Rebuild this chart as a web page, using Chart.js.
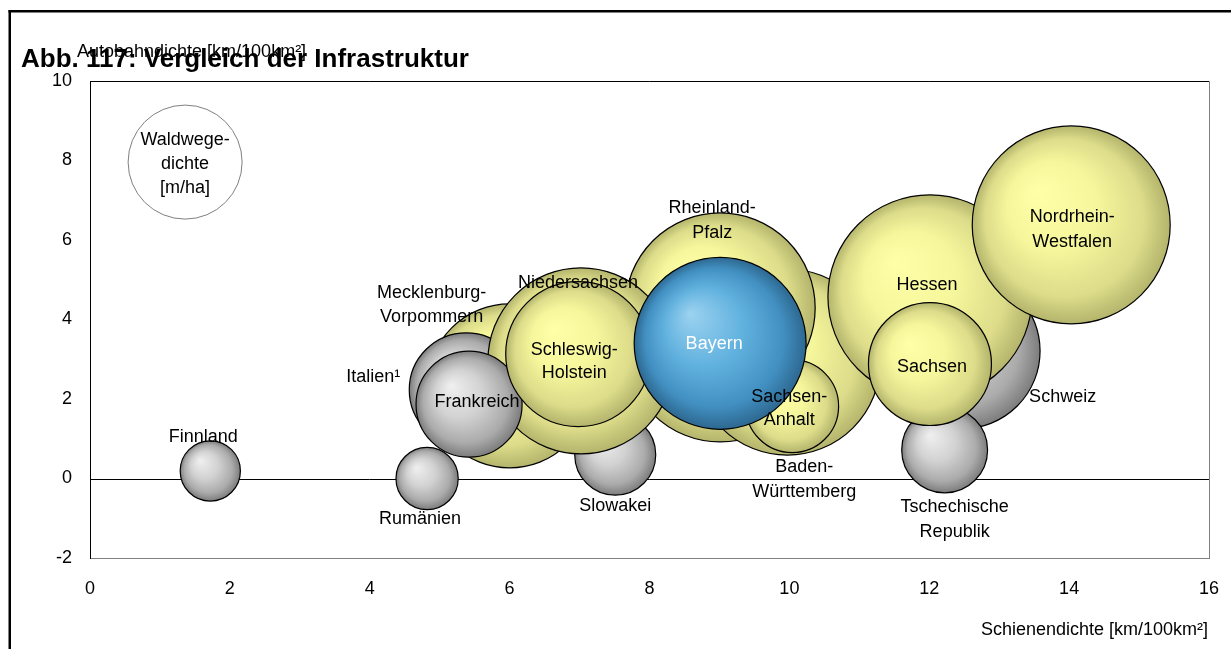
<!DOCTYPE html>
<html>
<head>
<meta charset="utf-8">
<script src="https://cdn.jsdelivr.net/npm/chart.js@4/dist/chart.umd.min.js"></script>
<style>
  html, body { margin: 0; padding: 0; background: #fff; }
  #c { display: block; }
</style>
</head>
<body>
<canvas id="c" width="1231" height="649"></canvas>
<script>
// ---------- DATA (drawing order: back to front) ----------
const laender = [
  '(ohne Beschriftung)', 'Baden-Württemberg', 'Rheinland-Pfalz', 'Slowakei',
  'Mecklenburg-Vorpommern', 'Italien', 'Niedersachsen', 'Frankreich',
  'Schleswig-Holstein', 'Sachsen-Anhalt', 'Bayern', 'Schweiz',
  'Tschechische Republik', 'Hessen', 'Nordrhein-Westfalen', 'Sachsen',
  'Finnland', 'Rumänien'
];
// Schienendichte [km/100km²] (x)
const schienendichte = [9.01, 9.97, 9.01, 7.51, 6.00, 5.38, 7.02, 5.42, 6.98, 10.04, 9.01, 12.47, 12.22, 12.01, 14.03, 12.01, 1.72, 4.82];
// Autobahndichte [km/100km²] (y)
const autobahndichte = [3.31, 2.93, 4.29, 0.60, 2.33, 2.23, 2.96, 1.87, 3.13, 1.82, 3.40, 3.21, 0.72, 4.57, 6.38, 2.88, 0.19, 0.00];
// Waldwegedichte [m/ha] (bubble size)
const waldwegedichte = [57.8, 55.4, 57.8, 10.5, 43.0, 20.8, 55.4, 18.0, 33.6, 13.8, 47.3, 38.9, 11.8, 66.6, 62.7, 24.2, 5.8, 6.2];
// group: DE = Bundesland, EU = Staat, BY = Bayern
const gruppe = ['DE', 'DE', 'DE', 'EU', 'DE', 'EU', 'DE', 'EU', 'DE', 'DE', 'BY', 'EU', 'EU', 'DE', 'DE', 'DE', 'EU', 'EU'];
// label text
const beschriftung = [
  '', 'Baden-\nWürttemberg', 'Rheinland-\nPfalz', 'Slowakei',
  'Mecklenburg-\nVorpommern', 'Italien¹', 'Niedersachsen', 'Frankreich',
  'Schleswig-\nHolstein', 'Sachsen-\nAnhalt', 'Bayern', 'Schweiz',
  'Tschechische\nRepublik', 'Hessen', 'Nordrhein-\nWestfalen', 'Sachsen',
  'Finnland', 'Rumänien'
];
// size legend bubble
const legendeText = 'Waldwege-\ndichte\n[m/ha]';
const legendeX = [1.36];
const legendeY = [7.96];
const legendeWert = [20.8];

const xTicks = [0, 2, 4, 6, 8, 10, 12, 14, 16];
const yTicks = [-2, 0, 2, 4, 6, 8, 10];

const titel = 'Abb. 117: Vergleich der Infrastruktur';
const yTitel = 'Autobahndichte [km/100km²]';
const xTitel = 'Schienendichte [km/100km²]';

// ---------- STYLE ----------
const FONT = "'Liberation Sans', Arial, sans-serif";
const PX_PER_SQRT = 12.5; // bubble radius = k * sqrt(value)
// label placement relative to bubble centre (px); align / line height
const labelPlacement = {
  'Baden-Württemberg': { dx: 17, dy: 105, lh: 25 },
  'Rheinland-Pfalz': { dx: -8, dy: -100, lh: 25 },
  'Slowakei': { dx: 0, dy: 51 },
  'Mecklenburg-Vorpommern': { dx: -78, dy: -93, lh: 24 },
  'Italien': { dx: -66, dy: -13, align: 'right' },
  'Niedersachsen': { dx: -3, dy: -78 },
  'Frankreich': { dx: 8, dy: -2 },
  'Schleswig-Holstein': { dx: -4, dy: -4, lh: 23 },
  'Sachsen-Anhalt': { dx: -3, dy: -9, lh: 23 },
  'Bayern': { dx: -6, dy: 1, color: '#ffffff' },
  'Schweiz': { dx: 67, dy: 46, align: 'left' },
  'Tschechische Republik': { dx: 10, dy: 57, lh: 25 },
  'Hessen': { dx: -3, dy: -12 },
  'Nordrhein-Westfalen': { dx: 1, dy: -8, lh: 25 },
  'Sachsen': { dx: 2, dy: 3 },
  'Finnland': { dx: -7, dy: -34 },
  'Rumänien': { dx: -7, dy: 41 }
};
const gradientStops = {
  DE: [[0, '#FFFFA8'], [0.45, '#F6F69C'], [0.8, '#DCDC8A'], [1, '#B4B46C']],
  EU: [[0, '#F0F0F0'], [0.45, '#D2D2D2'], [0.8, '#ABABAB'], [1, '#7C7C7C']],
  BY: [[0, '#9CD2F0'], [0.45, '#62B2DF'], [0.8, '#4290C2'], [1, '#2D6890']]
};

// ---------- BUILD ----------
const bubbleData = laender.map((n, i) => ({
  x: schienendichte[i], y: autobahndichte[i], r: PX_PER_SQRT * Math.sqrt(waldwegedichte[i]),
  name: n, grp: gruppe[i], text: beschriftung[i]
}));
const legendData = legendeX.map((x, i) => ({
  x: x, y: legendeY[i], r: PX_PER_SQRT * Math.sqrt(legendeWert[i]), text: legendeText
}));

function bubbleFill(ctx) {
  if (ctx.type !== 'data') return '#fff';
  const chart = ctx.chart;
  const xs = chart.scales.x, ys = chart.scales.y;
  const d = ctx.raw;
  if (!xs || !ys) return '#ddd';
  const cx = xs.getPixelForValue(d.x), cy = ys.getPixelForValue(d.y), r = d.r;
  if (!isFinite(cx) || !isFinite(cy)) return '#ddd';
  const g = chart.ctx.createRadialGradient(cx - 0.35 * r, cy - 0.35 * r, 0, cx, cy, r);
  gradientStops[d.grp].forEach(s => g.addColorStop(s[0], s[1]));
  return g;
}

const decorPlugin = {
  id: 'decor',
  beforeDraw(chart) {
    const c = chart.ctx;
    c.save();
    c.fillStyle = '#fff';
    c.fillRect(0, 0, chart.width, chart.height);
    // outer frame
    c.fillStyle = '#000';
    c.fillRect(8.5, 10, 2.5, chart.height);
    c.fillRect(8.5, 10, chart.width, 2.5);
    c.restore();
  },
  beforeDatasetsDraw(chart) {
    const c = chart.ctx, a = chart.chartArea;
    const ys = chart.scales.y;
    c.save();
    c.strokeStyle = '#808080';
    c.lineWidth = 1;
    c.beginPath();
    c.moveTo(a.left, a.top + 0.5);
    c.lineTo(a.right + 0.5, a.top + 0.5);
    c.lineTo(a.right + 0.5, a.bottom);
    c.stroke();
    c.strokeStyle = '#000';
    c.beginPath();
    c.moveTo(a.left, a.top + 0.5);
    c.lineTo(a.right, a.top + 0.5);
    c.stroke();
    const y0 = Math.round(ys.getPixelForValue(0)) + 0.5;
    c.beginPath();
    c.moveTo(a.left, y0);
    c.lineTo(a.right, y0);
    c.stroke();
    c.restore();
  },
  afterDatasetsDraw(chart) {
    const c = chart.ctx;
    const xs = chart.scales.x, ys = chart.scales.y;
    c.save();
    c.font = '18px ' + FONT;
    c.textBaseline = 'middle';
    // bubble labels
    bubbleData.forEach(d => {
      if (!d.text) return;
      const key = d.name;
      const p = labelPlacement[key] || { dx: 0, dy: 0 };
      const cx = xs.getPixelForValue(d.x), cy = ys.getPixelForValue(d.y);
      const lines = d.text.split('\n');
      const lh = p.lh || 23;
      c.fillStyle = p.color || '#000';
      c.textAlign = p.align || 'center';
      lines.forEach((t, k) => c.fillText(t, cx + p.dx, cy + p.dy + k * lh));
    });
    // legend bubble text
    legendData.forEach(d => {
      const cx = xs.getPixelForValue(d.x), cy = ys.getPixelForValue(d.y);
      const lines = d.text.split('\n');
      c.fillStyle = '#000';
      c.textAlign = 'center';
      lines.forEach((t, k) => c.fillText(t, cx, cy - 22 + k * 24));
    });
    // axis titles & chart title
    c.textAlign = 'left';
    c.textBaseline = 'alphabetic';
    c.font = '18px ' + FONT;
    c.fillText(yTitel, 77, 57);
    c.textAlign = 'right';
    c.textBaseline = 'middle';
    c.fillText(xTitel, 1208, 630);
    c.textAlign = 'left';
    c.textBaseline = 'alphabetic';
    c.font = 'bold 26px ' + FONT;
    c.fillText(titel, 21, 67);
    c.restore();
  }
};

new Chart(document.getElementById('c'), {
  type: 'bubble',
  data: {
    datasets: [
      {
        label: 'Waldwegedichte',
        data: legendData,
        backgroundColor: '#ffffff',
        borderColor: '#808080',
        borderWidth: 1,
        clip: false
      },
      {
        label: 'Regionen',
        data: bubbleData,
        backgroundColor: bubbleFill,
        borderColor: '#000000',
        borderWidth: 1.2,
        clip: false
      }
    ]
  },
  options: {
    responsive: false,
    animation: false,
    devicePixelRatio: 1,
    events: [],
    layout: { autoPadding: false, padding: { left: 0, top: 81, right: 22, bottom: 0 } },
    plugins: { legend: { display: false }, tooltip: { enabled: false }, title: { display: false } },
    scales: {
      x: {
        type: 'linear', min: 0, max: 16,
        afterBuildTicks(s) { s.ticks = xTicks.map(v => ({ value: v })); },
        afterFit(s) { s.height = 91; s.paddingLeft = 0; s.paddingRight = 0; },
        grid: { display: false, drawTicks: false },
        border: { display: true, color: '#808080', width: 1 },
        ticks: { color: '#000', font: { size: 18, family: FONT }, padding: 20, maxRotation: 0 }
      },
      y: {
        type: 'linear', min: -2, max: 10,
        afterBuildTicks(s) { s.ticks = yTicks.map(v => ({ value: v })); },
        afterFit(s) { s.width = 90; s.paddingTop = 0; s.paddingBottom = 0; },
        grid: { display: false, drawTicks: false },
        border: { display: true, color: '#000', width: 1 },
        ticks: { color: '#000', font: { size: 18, family: FONT }, padding: 18 }
      }
    }
  },
  plugins: [decorPlugin]
});
</script>
</body>
</html>
